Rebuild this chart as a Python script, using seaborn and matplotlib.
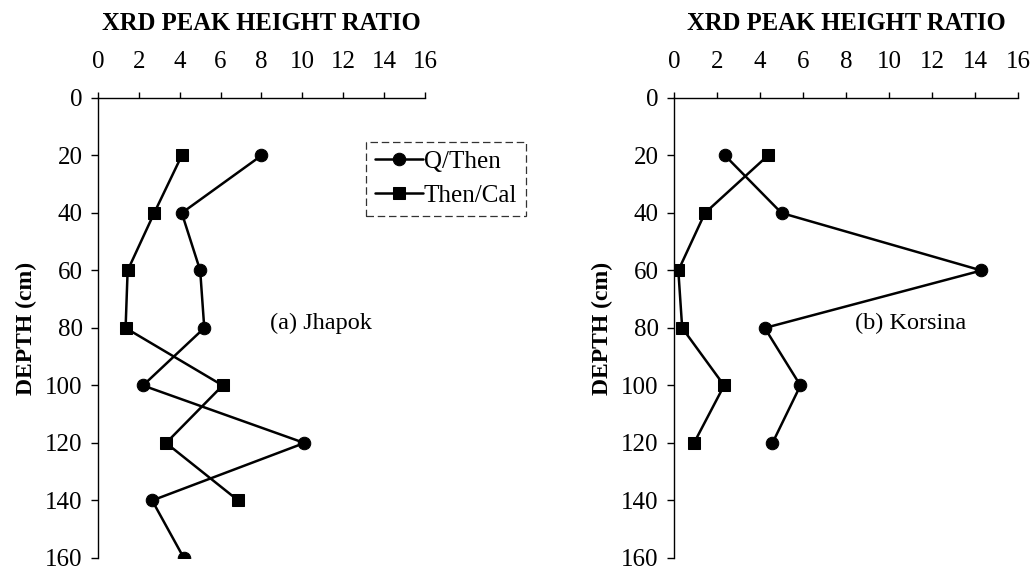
import matplotlib
matplotlib.use("Agg")
import matplotlib.pyplot as plt
import seaborn as sns
import pandas as pd

# depth (cm) and XRD peak height ratios
depth_a = [20, 40, 60, 80, 100, 120, 140, 160]
q_then_a = [8.0, 4.1, 5.0, 5.2, 2.2, 10.1, 2.65, 4.2]
then_cal_a = [4.1, 2.75, 1.45, 1.35, 6.1, 3.33, 6.86]

depth_b = [20, 40, 60, 80, 100, 120]
q_then_b = [2.37, 5.0, 14.3, 4.22, 5.88, 4.58]
then_cal_b = [4.37, 1.44, 0.2, 0.38, 2.33, 0.93]

x_ticks = [0, 2, 4, 6, 8, 10, 12, 14, 16]
y_ticks = [0, 20, 40, 60, 80, 100, 120, 140, 160]

sns.set_theme(style="white")
plt.rcParams['font.family'] = ['Liberation Serif', 'DejaVu Serif']
plt.rcParams['text.color'] = 'black'
plt.rcParams['axes.labelcolor'] = 'black'

FS = 18

fig = plt.figure(figsize=(10.36, 5.71), dpi=100)
ax_a = fig.add_axes([0.0946, 0.0228, 0.3156, 0.8056])
ax_b = fig.add_axes([0.6506, 0.0228, 0.332, 0.8056])


def draw_series(ax, depth, vals, marker, label, msize):
    df = pd.DataFrame({"depth": depth[:len(vals)], "ratio": vals})
    sns.lineplot(data=df, x="ratio", y="depth", sort=False, estimator=None,
                 color="black", lw=1.8, marker=marker, markersize=msize,
                 markeredgecolor="black", label=label, ax=ax)


def style_axes(ax, note):
    ax.set_xlim(0, 16)
    ax.set_ylim(160, 0)
    ax.set_xticks(x_ticks)
    ax.set_yticks(y_ticks)
    ax.xaxis.tick_top()
    ax.xaxis.set_label_position("top")
    for s in ["right", "bottom"]:
        ax.spines[s].set_visible(False)
    for s in ["left", "top"]:
        ax.spines[s].set_color("black")
        ax.spines[s].set_linewidth(1.0)
    ax.tick_params(axis="x", which="major", direction="out", length=4,
                   width=1, colors="black", labelsize=FS, pad=14, top=True,
                   bottom=False)
    ax.tick_params(axis="y", which="major", direction="out", length=5,
                   width=1, colors="black", labelsize=FS, pad=6, left=True)
    ax.set_xlabel("XRD PEAK HEIGHT RATIO", fontsize=FS - 0.3, fontweight="bold",
                  labelpad=15)
    ax.set_ylabel("DEPTH (cm)", fontsize=FS - 1, fontweight="bold", labelpad=6)
    ax.text(8.4, 78.5, note, fontsize=FS - 0.5, va="center", ha="left")


draw_series(ax_a, depth_a, q_then_a, "o", "Q/Then", 9)
draw_series(ax_a, depth_a, then_cal_a, "s", "Then/Cal", 9)
draw_series(ax_b, depth_b, q_then_b, "o", "Q/Then", 9)
draw_series(ax_b, depth_b, then_cal_b, "s", "Then/Cal", 9)

style_axes(ax_a, "(a) Jhapok")
style_axes(ax_b, "(b) Korsina")

ax_b.get_legend().remove()
leg = ax_a.legend(loc="upper right", bbox_to_anchor=(526 / 1036, 1 - 142 / 571),
                  bbox_transform=fig.transFigure, fontsize=FS, frameon=True,
                  fancybox=False, handlelength=1.9, handletextpad=0.05,
                  borderpad=0.35, labelspacing=0.45, borderaxespad=0)
frame = leg.get_frame()
frame.set_edgecolor("black")
frame.set_linewidth(0.9)
frame.set_linestyle((0, (6, 3)))
for t in leg.get_texts():
    t.set_color("black")

fig.savefig("out.png", dpi=100)
plt.close(fig)
